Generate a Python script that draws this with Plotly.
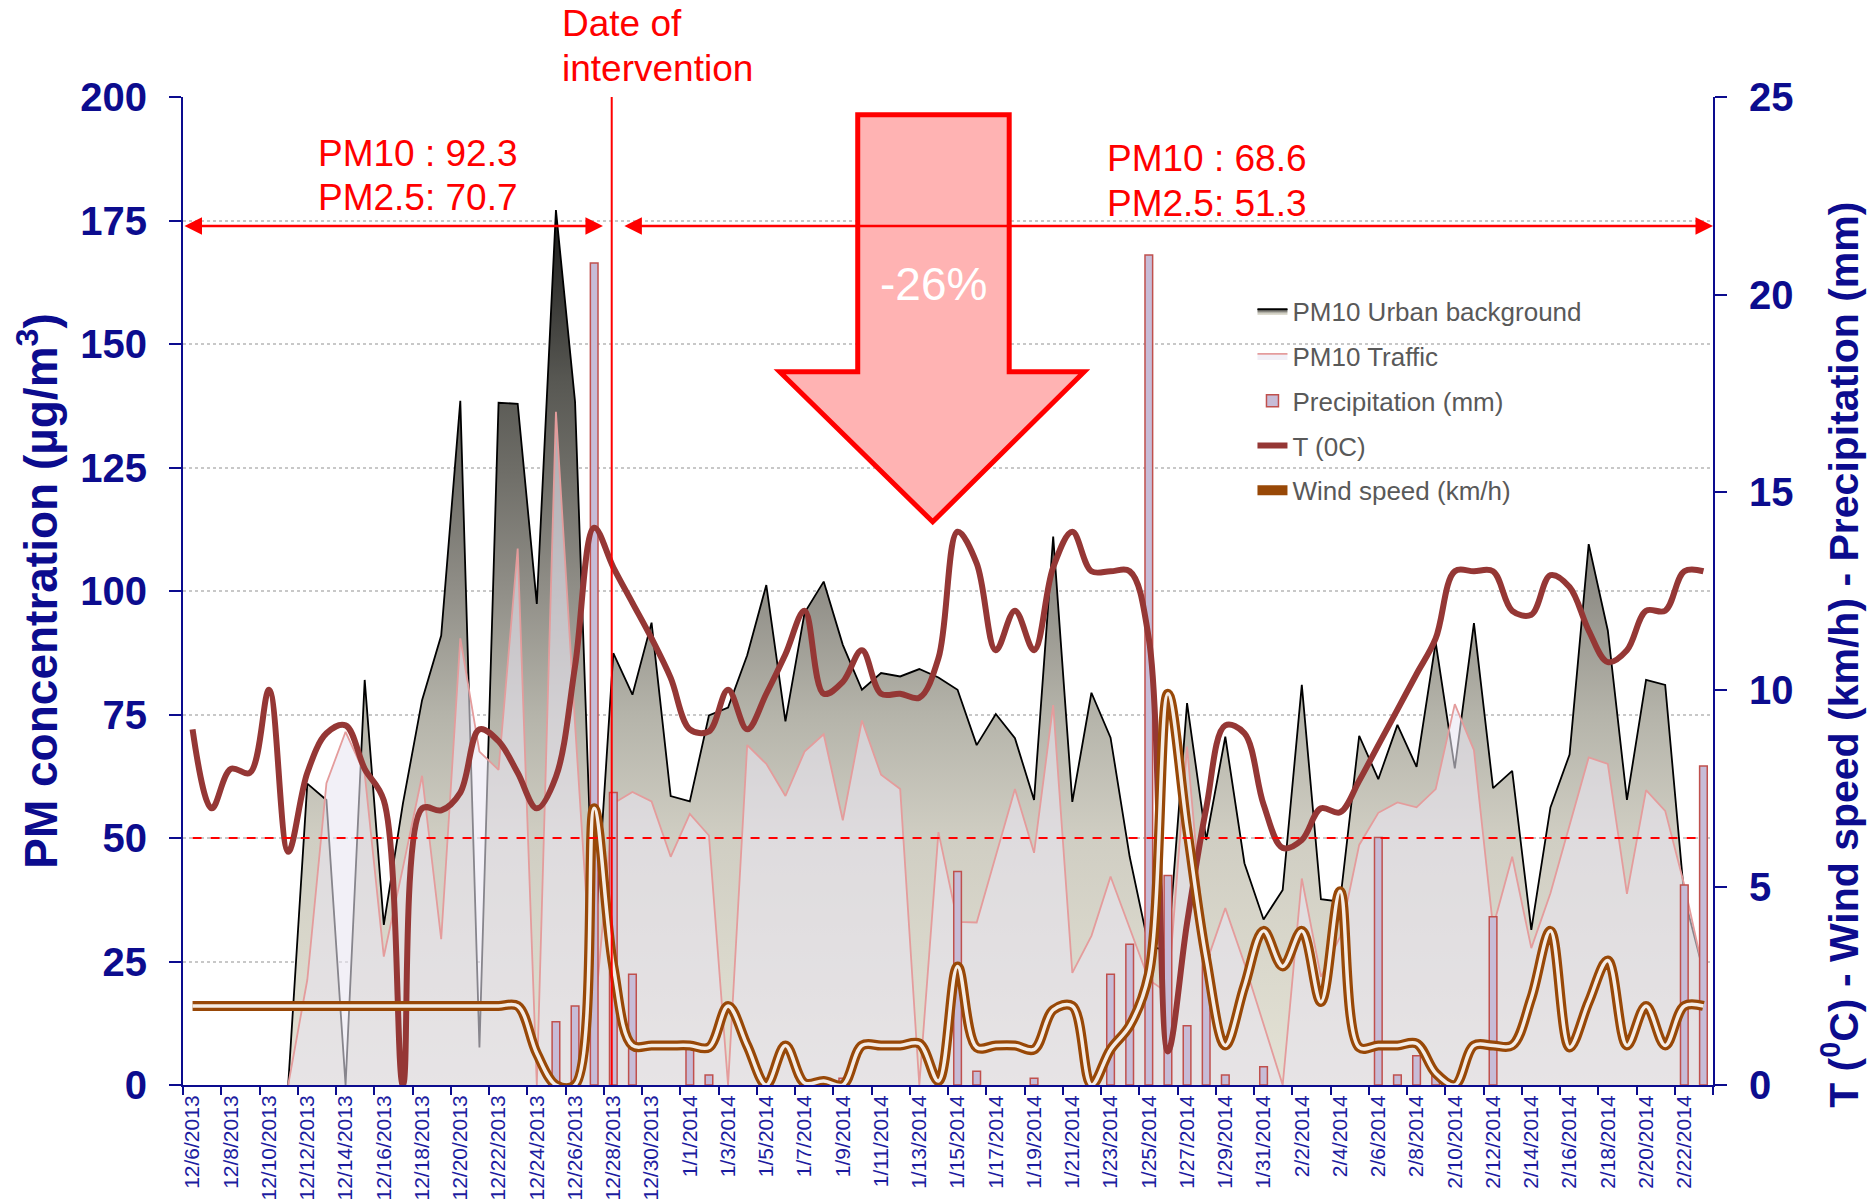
import pandas as pd
import plotly.graph_objects as go

# daily series, 12/6/2013 .. 2/23/2014
dates = pd.date_range('2013-12-06', '2014-02-23', freq='D')

pm10_urban = [
    None, None, None, None, None,
    0, 61, 57.7, 0, 82, 32.4, 57, 77.9, 91, 138.5, 7.6, 138.1, 137.9, 97.4, 177.1, 138.3, 27.3, 87.4, 79, 93.6, 58.5,
    57.4, 74.8, 76.4, 87, 101.2, 73.6, 95.6, 101.9, 89.1, 80, 83.4, 82.7, 84.2, 82.5, 80, 68.8, 75.1, 70.2, 57.7, 111,
    57.3, 79.4, 70.3, 46.2, 28, 27.3, 77.3, 49.6, 70.5, 44.9, 33.5,
    39.5, 81, 37.6, 37.1, 70.7, 61.9, 72.9, 64.4, 89.6, 64.1, 93.5, 60.1, 63.6, 31.4, 56.2, 66.9, 109.5, 92, 57.7, 82,
    81, 38, 22.9,
]

pm10_traffic = [
    None, None, None, None, None,
    0, 21.3, 61.1, 71.5, 63, 26, 44, 62.6, 29.5, 90.4, 67.5, 63.8, 108.6, 0, 136.3, 73, 12.8, 57, 59.3, 57.4, 46.2,
    54.9, 50.5, 0, 68.8, 65, 58.5, 67.5, 71, 53.6, 73.8, 62.8, 59.9, 0, 51.2, 33, 32.9, 46.4, 59.9, 47, 76.9,
    22.7, 30.2, 42.2, 31.7, 21.3, 18.6, 68.5, 24.6, 35.8, 24.6, 12.5,
    0, 41.8, 21.9, 30, 48.6, 55.1, 57.2, 56.2, 59.9, 77.1, 67.8, 32, 46.2, 27.7, 38.8, 52.6, 66.3, 65, 38.7, 59.7,
    55.5, 40.5, 22.9,
]

precipitation = [
    None, None, None, None, None, None, None, None, None, None, None, None, None, None, None, None, None, None, None,
    1.6, 2.0, 20.8, 7.4, 2.8, None, None,
    0.95, 0.25, None, None, None, None, None, None, 0.17, None, None, None, None, None, 5.4, 0.35, None, None, 0.17,
    None, None, None, 2.8, 3.56, 21.0, 5.3, 1.5, 3.3, 0.25, None, 0.46,
    None, None, None, None, None, 6.26, 0.25, 0.74, 0.25, None, None, 4.26, None, None, None, None, None, None, None,
    None, None, 5.06, 8.07,
]

temperature = [
    9.0, 7.0, 8.0, 7.9, 10.0, 5.9, 7.9, 8.9, 9.1, 8.0, 7.2, 0.0, 7.0, 6.95, 7.4, 9.0, 8.7, 7.9, 7.0, 7.8, 10.6, 14.1,
    13.1, 12.2, 11.3, 10.3,
    9.0, 8.95, 10.0, 9.0, 9.9, 10.9, 12.0, 9.9, 10.2, 11.0, 9.9, 9.9, 9.8, 10.8, 14.0, 13.2, 11.0, 12.0, 11.0, 13.1,
    14.0, 13.0, 13.0, 13.0, 11.3, 0.85, 4.1, 7.0, 9.1, 8.9, 7.1,
    6.0, 6.2, 7.0, 6.9, 7.7, 8.6, 9.5, 10.4, 11.3, 13.0, 13.0, 13.0, 12.0, 11.9, 12.9, 12.6, 11.5, 10.7, 11.0, 12.0,
    12.0, 13.0, 13.0,
]

wind_speed = [
    2.0, 2.0, 2.0, 2.0, 2.0, 2.0, 2.0, 2.0, 2.0, 2.0, 2.0, 2.0, 2.0, 2.0, 2.0, 2.0, 2.0,
    2.0, 0.8, 0.0, 0.0, 7.0, 3.0, 1.0, 1.0, 1.0,
    1.0, 0.95, 2.0, 1.0, 0.0, 1.0, 0.05, 0.1, 0.0, 1.0, 1.0, 1.0, 1.05, 0.1, 3.0, 0.95, 1.0, 1.0, 0.9, 1.9,
    2.0, 0.0, 0.9, 1.5, 2.8, 9.9, 6.5, 3.2, 1.0, 2.5, 3.9,
    3.0, 3.9, 2.1, 4.9, 0.95, 1.0, 1.0, 1.05, 0.3, 0.0, 1.0, 1.0, 1.0, 2.2, 3.9, 0.95, 2.1, 3.15, 1.0, 2.0,
    1.0, 2.0, 2.0,
]

for s in (pm10_urban, pm10_traffic, precipitation, temperature, wind_speed):
    assert len(s) == len(dates)

tick_dates = dates[::2]
tick_labels = [f"{d.month}/{d.day}/{d.year}" for d in tick_dates]
boundaries = list(dates[::2] - pd.Timedelta(hours=12)) + [dates[-1] + pd.Timedelta(hours=12)]

intervention = '2013-12-27 22:00'
limit_value = 50
before_text = ['PM10 : 92.3', 'PM2.5: 70.7']
after_text = ['PM10 : 68.6', 'PM2.5: 51.3']

NAVY = '#0c0c8e'
RED = '#ff0000'
FONT = 'Liberation Sans, Arial, sans-serif'
DAY_MS = 86400000

fig = go.Figure()

fig.add_trace(go.Scatter(
    x=dates, y=pm10_urban, name='PM10 Urban background', mode='lines',
    line=dict(color='black', width=1.8), fill='tozeroy',
    fillgradient=dict(type='vertical', start=0, stop=178, colorscale=[
        [0.0, '#e4e2d5'], [0.28, '#d0cec3'], [0.42, '#b5b4aa'], [0.56, '#918f88'],
        [0.70, '#6e6d67'], [0.80, '#585853'], [1.0, '#181817']]),
    legendgroup='a',
))
fig.add_trace(go.Scatter(
    x=dates, y=pm10_traffic, name='PM10 Traffic', mode='lines',
    line=dict(color='#e49c9c', width=1.8), fill='tozeroy',
    fillcolor='rgba(233,229,241,0.58)', legendgroup='b',
))
fig.add_trace(go.Bar(
    x=dates, y=precipitation, name='Precipitation (mm)', yaxis='y2',
    width=0.4 * DAY_MS, marker=dict(color='#c7bcd7', line=dict(color='#c0504d', width=1.5)),
    legendgroup='c',
))
fig.add_trace(go.Scatter(
    x=dates, y=temperature, name='T (0C)', yaxis='y2', mode='lines',
    line=dict(color='#953735', width=6, shape='spline', smoothing=1),
    legendgroup='d',
))
fig.add_trace(go.Scatter(
    x=dates, y=wind_speed, name='Wind speed (km/h)', yaxis='y2', mode='lines',
    line=dict(color='#984807', width=10, shape='spline', smoothing=1),
    legendgroup='e',
))
fig.add_trace(go.Scatter(
    x=dates, y=wind_speed, yaxis='y2', mode='lines', showlegend=False, hoverinfo='skip',
    line=dict(color='rgba(255,255,255,0.9)', width=3.5, shape='spline', smoothing=1),
    legendgroup='e',
))

axis_common = dict(showline=True, linecolor=NAVY, linewidth=2, zeroline=False)

fig.update_layout(
    width=1868, height=1199, template='none',
    margin=dict(l=183, r=155, t=97, b=114),
    paper_bgcolor='white', plot_bgcolor='white',
    font=dict(family=FONT),
    showlegend=True,
    legend=dict(x=0.699, y=0.807, xanchor='left', yanchor='top', bgcolor='rgba(0,0,0,0)',
                font=dict(size=26, color='#595959', family=FONT), tracegroupgap=8),
    xaxis=dict(
        **axis_common, type='date', range=[boundaries[0], boundaries[-1]], showgrid=False,
        tickmode='array', tickvals=list(tick_dates), ticktext=tick_labels, tickangle=-90,
        ticks='', tickfont=dict(size=21, color='#1c1ca0'),
        minor=dict(tickmode='array', tickvals=boundaries, ticks='outside', ticklen=8,
                   tickwidth=2, tickcolor=NAVY, showgrid=False),
        automargin=False,
    ),
    yaxis=dict(
        **axis_common, range=[0, 200], tickmode='linear', tick0=0, dtick=25,
        ticks='outside', ticklen=12, tickwidth=2, tickcolor=NAVY, ticklabelstandoff=14,
        tickfont=dict(size=40, color=NAVY, weight='bold'),
        showgrid=True, gridcolor='#c8c8c8', gridwidth=1.5, griddash='dot',
        title=dict(text='PM concentration (µg/m<sup>3</sup>)', standoff=8,
                   font=dict(size=46, color=NAVY, weight='bold')),
        automargin=False,
    ),
    yaxis2=dict(
        **axis_common, overlaying='y', side='right', range=[0, 25], tickmode='linear', tick0=0, dtick=5,
        ticks='outside', ticklen=12, tickwidth=2, tickcolor=NAVY, ticklabelstandoff=14,
        tickfont=dict(size=40, color=NAVY, weight='bold'), showgrid=False,
        automargin=False,
    ),
)

# right axis title (sits lower than the axis centre in the original)
fig.add_annotation(x=1.0834, y=0.435, xref='paper', yref='paper', textangle=-90,
                   text='<b>T (<sup>0</sup>C) - Wind speed (km/h) - Precipitation (mm)</b>',
                   showarrow=False, xanchor='center', yanchor='middle',
                   font=dict(size=41, color=NAVY, family=FONT))

# limit value line and date of intervention
fig.add_shape(type='line', xref='x', yref='y', x0=dates[0], x1=dates[-1], y0=limit_value, y1=limit_value,
              line=dict(color=RED, width=1.8, dash='dash'), layer='above')
fig.add_shape(type='line', xref='x', yref='paper', x0=intervention, x1=intervention, y0=0, y1=1.0,
              line=dict(color=RED, width=2), layer='above')

# big "reduction" arrow (paper coordinates)
arrow_path = ('M 0.441,0.982 L 0.540,0.982 L 0.540,0.722 L 0.589,0.722 '
              'L 0.490,0.570 L 0.390,0.722 L 0.441,0.722 Z')
fig.add_shape(type='path', xref='paper', yref='paper', path=arrow_path,
              fillcolor='#ffb3b3', line=dict(color=RED, width=5), layer='above')

# period arrows
arrow_y = 173.9
for x_start, x_end in [(boundaries[0], '2013-12-27 11:00'), ('2013-12-28 12:00', boundaries[-1])]:
    fig.add_annotation(x=x_end, y=arrow_y, ax=x_start, ay=arrow_y, xref='x', yref='y', axref='x', ayref='y',
                       text='', showarrow=True, arrowside='end+start', arrowhead=2, startarrowhead=2,
                       arrowsize=1.4, startarrowsize=1.4, arrowwidth=2.5, arrowcolor=RED)

red_font = dict(size=37, color=RED, family=FONT)
fig.add_annotation(x=0.1538, y=0.943, xref='paper', yref='paper', text=before_text[0],
                   showarrow=False, xanchor='center', yanchor='middle', font=red_font)
fig.add_annotation(x=0.1538, y=0.8985, xref='paper', yref='paper', text=before_text[1],
                   showarrow=False, xanchor='center', yanchor='middle', font=red_font)
fig.add_annotation(x=0.6026, y=0.938, xref='paper', yref='paper', text=after_text[0],
                   showarrow=False, xanchor='left', yanchor='middle', font=red_font)
fig.add_annotation(x=0.6026, y=0.8924, xref='paper', yref='paper', text=after_text[1],
                   showarrow=False, xanchor='left', yanchor='middle', font=red_font)
fig.add_annotation(x=0.2464, y=1.0739, xref='paper', yref='paper', text='Date of',
                   showarrow=False, xanchor='left', yanchor='middle', font=red_font)
fig.add_annotation(x=0.2464, y=1.0289, xref='paper', yref='paper', text='intervention',
                   showarrow=False, xanchor='left', yanchor='middle', font=red_font)
fig.add_annotation(x=0.4902, y=0.8112, xref='paper', yref='paper', text='-26%',
                   showarrow=False, xanchor='center', yanchor='middle',
                   font=dict(size=46, color='white', family=FONT))

fig.write_html("out.html", config={'displayModeBar': False},
               post_script="document.body.style.margin='0';")
